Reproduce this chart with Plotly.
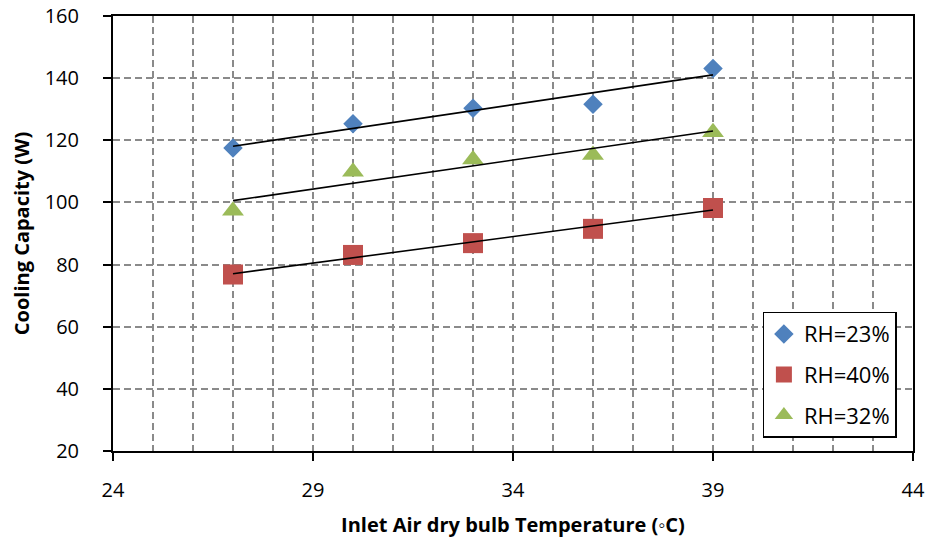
import numpy as np
import plotly.graph_objects as go

# Inlet air dry bulb temperature (°C)
temperature = [27, 30, 33, 36, 39]

# Cooling capacity (W) at each relative humidity
cap_rh23 = [117.5, 125.3, 130.3, 131.6, 143.1]
cap_rh40 = [76.8, 83.1, 86.9, 91.5, 98.2]
cap_rh32 = [97.3, 109.9, 113.8, 115.3, 122.6]

series_names = ["RH=23%", "RH=40%", "RH=32%"]
series_colors = ["#4F81BD", "#C0504D", "#9BBB59"]
series_symbols = ["diamond", "square", "triangle-up"]
series_sizes = [15, 20, 19]
series_values = [cap_rh23, cap_rh40, cap_rh32]

x_ticks = [24, 29, 34, 39, 44]
y_ticks = [20, 40, 60, 80, 100, 120, 140, 160]

FONT = "Open Sans"
GRID = "#8a8a8a"

fig = go.Figure()

for i, (name, vals) in enumerate(zip(series_names, series_values)):
    fig.add_trace(go.Scatter(
        x=temperature, y=vals, mode="markers", name=name,
        legendgroup=name,
        marker=dict(symbol=series_symbols[i], size=series_sizes[i],
                    color=series_colors[i], line=dict(width=0)),
    ))

# Linear trend line for each series, spanning the measured range
for vals in series_values:
    slope, intercept = np.polyfit(temperature, vals, 1)
    xs = np.array([temperature[0], temperature[-1]])
    fig.add_trace(go.Scatter(
        x=xs, y=slope * xs + intercept, mode="lines", showlegend=False,
        line=dict(color="black", width=1.6), hoverinfo="skip",
    ))

fig.update_layout(
    width=933, height=545,
    margin=dict(l=113, r=20, t=16, b=94, autoexpand=False),
    paper_bgcolor="white", plot_bgcolor="white",
    font=dict(family=FONT, color="black", size=20),
    showlegend=True,
    legend=dict(
        x=0.812, y=0.32, xanchor="left", yanchor="top",
        bgcolor="white", bordercolor="black", borderwidth=1.3,
        font=dict(family=FONT, size=22, color="black"),
        tracegroupgap=9, itemwidth=30,
    ),
)

fig.update_xaxes(
    range=[24, 44], tickvals=x_ticks, ticktext=[str(v) for v in x_ticks],
    ticks="outside", ticklen=8, tickwidth=1.5, tickcolor="black",
    showline=True, linecolor="black", linewidth=2, mirror=True,
    showgrid=True, gridcolor=GRID, gridwidth=1.5, griddash="7px,4px",
    minor=dict(dtick=1, tick0=24, showgrid=True, gridcolor=GRID,
               gridwidth=1.5, griddash="7px,4px", ticks=""),
    zeroline=False, automargin=False,
    tickfont=dict(family=FONT, size=20),
    ticklabelstandoff=12,
    title=dict(text="<b>Inlet Air dry bulb Temperature (\u25e6C)</b>",
               font=dict(family=FONT, size=20), standoff=16),
)

fig.update_yaxes(
    range=[20, 160], tickvals=y_ticks, ticktext=[str(v) for v in y_ticks],
    ticks="outside", ticklen=8, tickwidth=1.5, tickcolor="black",
    showline=True, linecolor="black", linewidth=2, mirror=True,
    showgrid=True, gridcolor=GRID, gridwidth=1.5, griddash="7px,4px",
    zeroline=False, automargin=False,
    tickfont=dict(family=FONT, size=20),
    ticklabelstandoff=20,
    title=dict(text="<b>Cooling Capacity (W)</b>",
               font=dict(family=FONT, size=20), standoff=10),
)

fig.write_html("out.html")
